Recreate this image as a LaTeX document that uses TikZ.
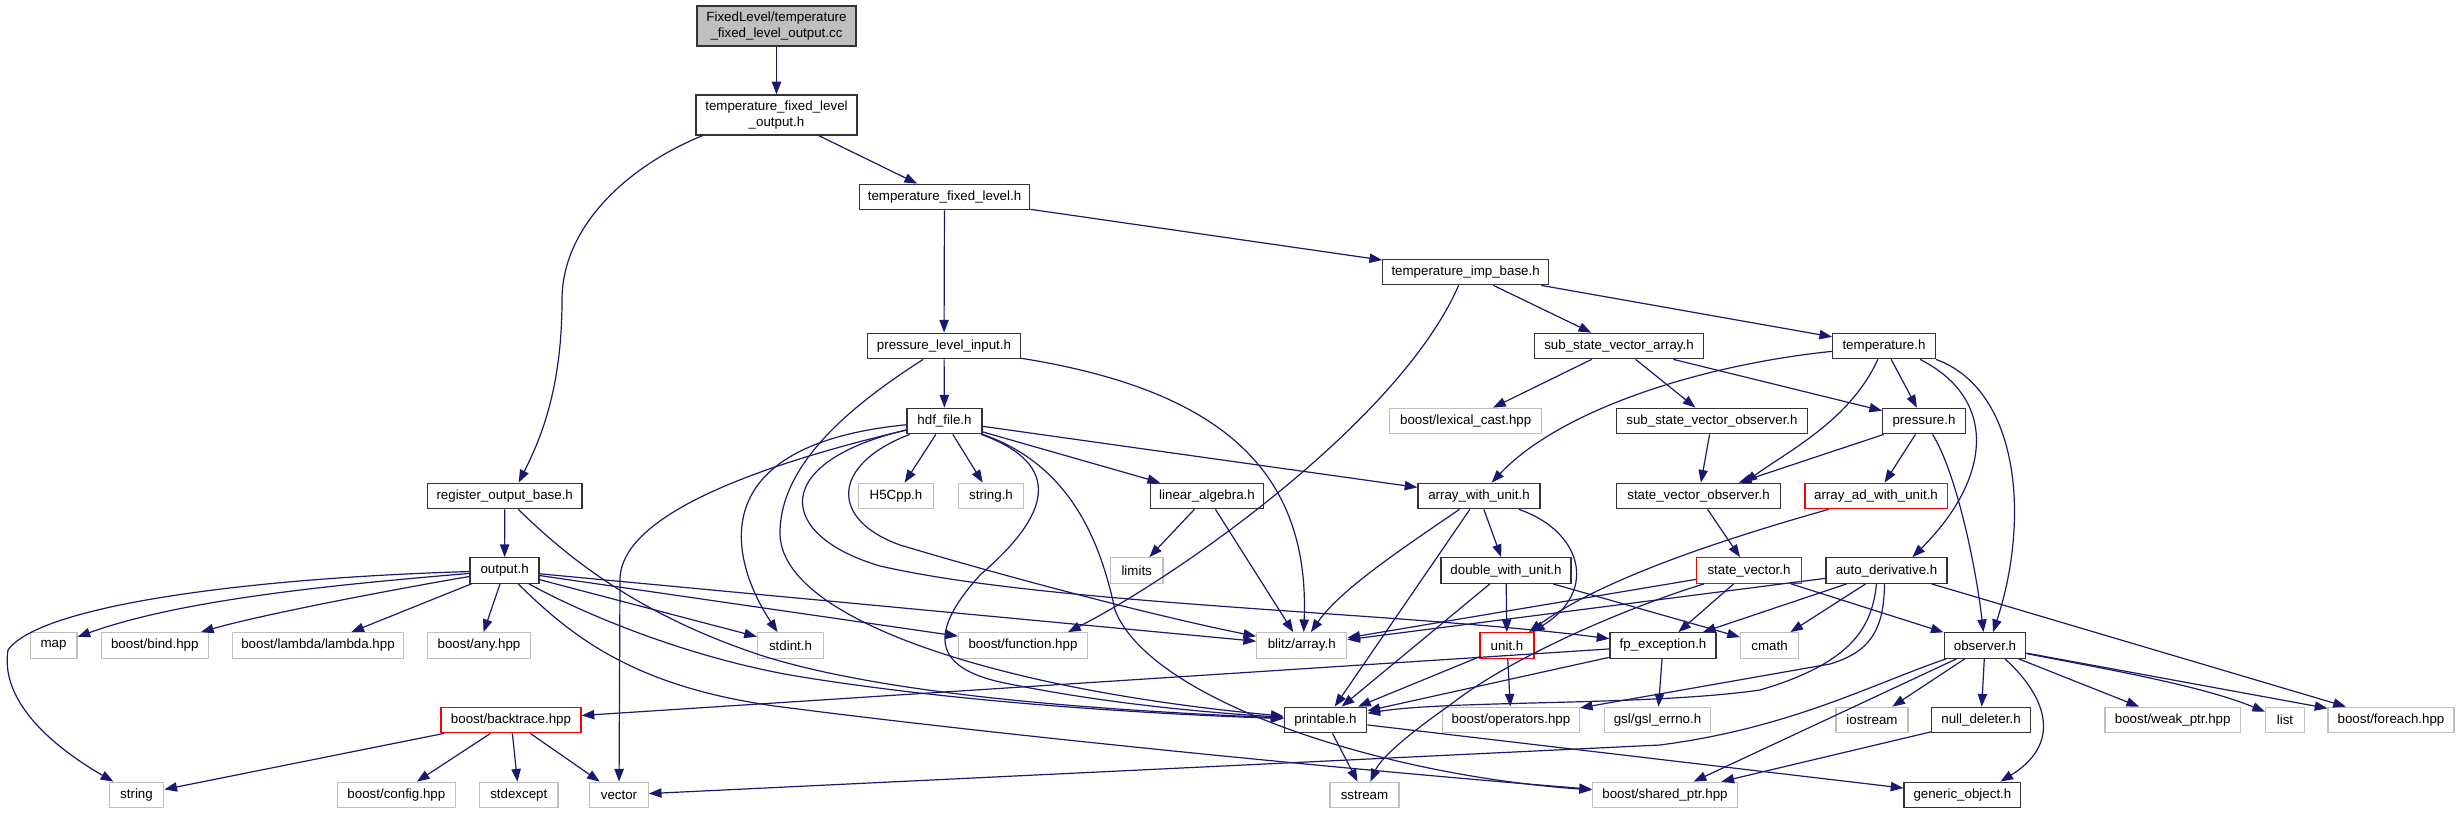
\documentclass[tikz,border=0pt]{standalone}
\usepackage{fontspec}
\setmainfont{Liberation Sans}
\usetikzlibrary{arrows.meta}
\definecolor{edgec}{HTML}{191970}
\definecolor{sysc}{HTML}{BFBFBF}
\definecolor{hdrc}{HTML}{333333}
\tikzset{
  nd/.style={draw=hdrc, line width=0.95pt, fill=white, minimum height=25.5*0.75pt,
    inner sep=0pt, font=\fontsize{10}{11.5}\selectfont, align=center, minimum width=#1*0.75pt},
  hdr/.style={nd=#1},
  sys/.style={nd=#1, draw=sysc},
  rednd/.style={nd=#1, draw=red},
  dep/.style={draw=edgec, line width=0.9pt, -{Triangle[length=9.5pt,width=7pt]}},
  xs/.style={xshift=#1*0.75pt}
}
\begin{document}
\begin{tikzpicture}[x=0.75pt,y=-0.75pt]
\useasboundingbox[fill=white] (0,0) rectangle (2461,813);
% nodes
\node[hdr=159, fill=sysc, minimum height=30pt] (root) at (776.5,26) {FixedLevel/temperature\\\_fixed\_level\_output.cc};
\node[hdr=161, minimum height=30pt] (tfo) at (776.5,115) {temperature\_fixed\_level\\\_output.h};
\node[hdr=170.5] (tfl) at (944.5,197) {temperature\_fixed\_level.h};
\node[hdr=165.7] (tib) at (1465.6,272) {temperature\_imp\_base.h};
\node[hdr=152.3] (pli) at (944,346) {pressure\_level\_input.h};
\node[hdr=169.4] (ssva) at (1619,346) {sub\_state\_vector\_array.h};
\node[hdr=102.5] (temp) at (1884,346) {temperature.h};
\node[hdr=75] (hdf) at (944.5,421) {hdf\_file.h};
\node[sys=152.2] (lexcast) at (1465.7,421) {boost/lexical\_cast.hpp};
\node[hdr=191] (ssvo) at (1712,421) {sub\_state\_vector\_observer.h};
\node[hdr=82.6] (pressure) at (1924,421) {pressure.h};
\node[hdr=154.7] (rob) at (504.7,496) {register\_output\_base.h};
\node[sys=74.5] (h5) at (896,496) {H5Cpp.h};
\node[sys=65] (stringh) at (991,496) {string.h};
\node[hdr=113] (linalg) at (1207,496) {linear\_algebra.h};
\node[hdr=122] (awu) at (1479,496) {array\_with\_unit.h};
\node[hdr=163.7] (svo) at (1698.5,496) {state\_vector\_observer.h};
\node[rednd=142.3] (aadwu) at (1876,496) {array\_ad\_with\_unit.h};
\node[hdr=69] (output) at (504.6,570.5) {output.h};
\node[sys=52.7] (limits) at (1136.7,570.5) {limits};
\node[hdr=130.2] (dwu) at (1506,570.5) {double\_with\_unit.h};
\node[rednd=104.6] (sv) at (1749,570.5) {state\_vector.h};
\node[hdr=121] (autod) at (1886.5,570.5) {auto\_derivative.h};
\node[sys=46.6] (map) at (53.6,645.5) {map};
\node[sys=106.7] (bind) at (154.8,645.5) {boost/bind.hpp};
\node[sys=170.5] (lambda) at (318,645.5) {boost/lambda/lambda.hpp};
\node[sys=103.6] (any) at (479,645.5) {boost/any.hpp};
\node[sys=66] (stdint) at (790.5,645.5) {stdint.h};
\node[sys=128.7] (bfunc) at (1023,645.5) {boost/function.hpp};
\node[sys=90] (blitz) at (1301.7,645.5) {blitz/array.h};
\node[rednd=54] (unit) at (1507,645.5) {unit.h};
\node[hdr=106] (fpexc) at (1663,645.5) {fp\_exception.h};
\node[sys=58] (cmath) at (1769.5,645.5) {cmath};
\node[hdr=81.6] (observer) at (1985,645.5) {observer.h};
\node[rednd=140] (backtrace) at (511,720) {boost/backtrace.hpp};
\node[hdr=82.6] (printable) at (1325.5,720) {printable.h};
\node[sys=136.5] (operators) at (1511,720) {boost/operators.hpp};
\node[sys=106.2] (gsl) at (1657.5,720) {gsl/gsl\_errno.h};
\node[sys=71.8] (iostream) at (1872,720) {iostream};
\node[hdr=98.9] (nulldel) at (1981,720) {null\_deleter.h};
\node[sys=135.4] (weakptr) at (2172.7,720) {boost/weak\_ptr.hpp};
\node[sys=38.7] (list) at (2285,720) {list};
\node[sys=126] (foreach) at (2391,720) {boost/foreach.hpp};
\node[sys=54.4] (string) at (136.5,795) {string};
\node[sys=118.2] (config) at (396.4,795) {boost/config.hpp};
\node[sys=78.4] (stdexcept) at (518.8,795) {stdexcept};
\node[sys=58.5] (vector) at (619,795) {vector};
\node[sys=69] (sstream) at (1364.5,795) {sstream};
\node[sys=144.7] (sharedptr) at (1665,795) {boost/shared\_ptr.hpp};
\node[hdr=116.8] (generic) at (1962.4,795) {generic\_object.h};
% edges
\draw[dep] (root) -- (tfo);
\draw[dep] (tfo) -- (tfl);
\draw[dep] ([xs=-74]tfo.south) .. controls (630,165) and (562,225) .. (562,300) .. controls (562,390) and (540,440) .. ([xs=14]rob.north);
\draw[dep] (tfl) -- (pli);
\draw[dep] (tfl) -- (tib);
\draw[dep] (tib) -- (ssva);
\draw[dep] (tib) -- (temp);
\draw[dep] ([xs=-7]tib.south) .. controls (1400,420) and (1180,575) .. ([xs=45]bfunc.north);
\draw[dep] (pli) -- (hdf);
\draw[dep] (pli) .. controls (1220,390) and (1310,470) .. ([xs=2]blitz.north);
\draw[dep] (pli) .. controls (860,400) and (780,460) .. (780,533) .. controls (780,620) and (1000,690) .. (printable);
\draw[dep] (ssva) -- (lexcast);
\draw[dep] (ssva) -- (ssvo);
\draw[dep] (ssva) -- (pressure);
\draw[dep] (temp) .. controls (1700,365) and (1560,410) .. (awu);
\draw[dep] (temp) .. controls (1850,420) and (1790,450) .. ([xs=46]svo.north);
\draw[dep] (temp) -- (pressure);
\draw[dep] ([xs=36]temp.south) .. controls (2000,400) and (1990,480) .. ([xs=26]autod.north);
\draw[dep] (temp.south east) .. controls (2020,390) and (2030,520) .. ([xs=8]observer.north);
\draw[dep] (hdf) -- (h5);
\draw[dep] (hdf) -- (stringh);
\draw[dep] (hdf) -- (linalg);
\draw[dep] (hdf) -- (awu);
\draw[dep] (hdf) .. controls (700,445) and (730,560) .. ([xs=-13]stdint.north);
\draw[dep] (hdf) .. controls (780,460) and (620,510) .. (620,580) -- (vector);
\draw[dep] (hdf) .. controls (830,465) and (830,520) .. (900,545) .. controls (1000,575) and (1150,615) .. (blitz);
\draw[dep] (hdf) .. controls (770,462) and (775,535) .. (880,566) .. controls (1050,605) and (1400,612) .. (fpexc);
\draw[dep] (hdf) .. controls (1065,465) and (1050,515) .. (980,575) .. controls (935,625) and (925,665) .. (1000,682) .. controls (1100,703) and (1200,712) .. (printable);
\draw[dep] (hdf) .. controls (1070,465) and (1100,540) .. (1115,610) .. controls (1150,700) and (1380,775) .. (sharedptr);
\draw[dep] (ssvo) -- (svo);
\draw[dep] (pressure) -- (svo);
\draw[dep] (pressure) -- (aadwu);
\draw[dep] (pressure) .. controls (1955,470) and (1975,560) .. (observer);
\draw[dep] (rob) -- (output);
\draw[dep] (rob) .. controls (570,560) and (640,615) .. (760,655) .. controls (900,700) and (1150,712) .. (printable);
\draw[dep] (linalg) -- (limits);
\draw[dep] (linalg) -- (blitz);
\draw[dep] (awu) -- (dwu);
\draw[dep] (awu) .. controls (1400,550) and (1340,590) .. (blitz);
\draw[dep] (awu) -- (printable);
\draw[dep] (awu) .. controls (1580,530) and (1600,590) .. ([xs=25]unit.north);
\draw[dep] (svo) -- (sv);
\draw[dep] (aadwu) .. controls (1720,540) and (1600,580) .. ([xs=22]unit.north);
\draw[dep] (output) .. controls (330,585) and (180,600) .. (map);
\draw[dep] (output) .. controls (390,590) and (260,615) .. (bind);
\draw[dep] (output) -- (lambda);
\draw[dep] (output) -- (any);
\draw[dep] (output) -- (stdint);
\draw[dep] (output) .. controls (250,578) and (40,605) .. (8,650) .. controls (0,700) and (50,745) .. (string);
\draw[dep] (output) -- (blitz);
\draw[dep] (output) -- (bfunc);
\draw[dep] (output) .. controls (580,612) and (680,655) .. (790,675) .. controls (950,702) and (1150,714) .. (printable);
\draw[dep] (output) .. controls (575,640) and (640,690) .. (790,708) .. controls (1000,735) and (1350,770) .. (sharedptr);
\draw[dep] (dwu) -- (unit);
\draw[dep] (dwu) -- (printable);
\draw[dep] (dwu) -- (cmath);
\draw[dep] (sv) -- (blitz);
\draw[dep] (sv) -- (fpexc);
\draw[dep] (sv) -- (observer);
\draw[dep] (sv) .. controls (1650,600) and (1520,650) .. (1450,705) .. controls (1400,740) and (1380,760) .. (sstream);
\draw[dep] (autod) -- (blitz);
\draw[dep] (autod) -- (fpexc);
\draw[dep] (autod) -- (cmath);
\draw[dep] (autod) -- (foreach);
\draw[dep] ([xs=-2]autod.south) .. controls (1884,630) and (1870,652) .. (1830,664) -- (operators);
\draw[dep] ([xs=-10]autod.south) .. controls (1872,625) and (1855,662) .. (1760,690) .. controls (1650,706) and (1450,700) .. (printable);
\draw[dep] (unit) -- (printable);
\draw[dep] (unit) -- (operators);
\draw[dep] (fpexc) -- (printable);
\draw[dep] (fpexc) -- (backtrace);
\draw[dep] (fpexc) -- (gsl);
\draw[dep] (observer) .. controls (1870,685) and (1790,728) .. (1660,745) -- (vector);
\draw[dep] (observer) -- (sharedptr);
\draw[dep] (observer) -- (iostream);
\draw[dep] (observer) -- (nulldel);
\draw[dep] ([xs=20]observer.south) .. controls (2050,700) and (2060,745) .. ([xs=38]generic.north);
\draw[dep] (observer) -- (weakptr);
\draw[dep] (observer) .. controls (2100,668) and (2200,685) .. (list);
\draw[dep] (observer) -- (foreach);
\draw[dep] (backtrace) -- (string);
\draw[dep] (backtrace) -- (config);
\draw[dep] (backtrace) -- (stdexcept);
\draw[dep] (backtrace) -- (vector);
\draw[dep] (printable) -- (sstream);
\draw[dep] (printable) -- (generic);
\draw[dep] (nulldel) -- (sharedptr);
\end{tikzpicture}
\end{document}
